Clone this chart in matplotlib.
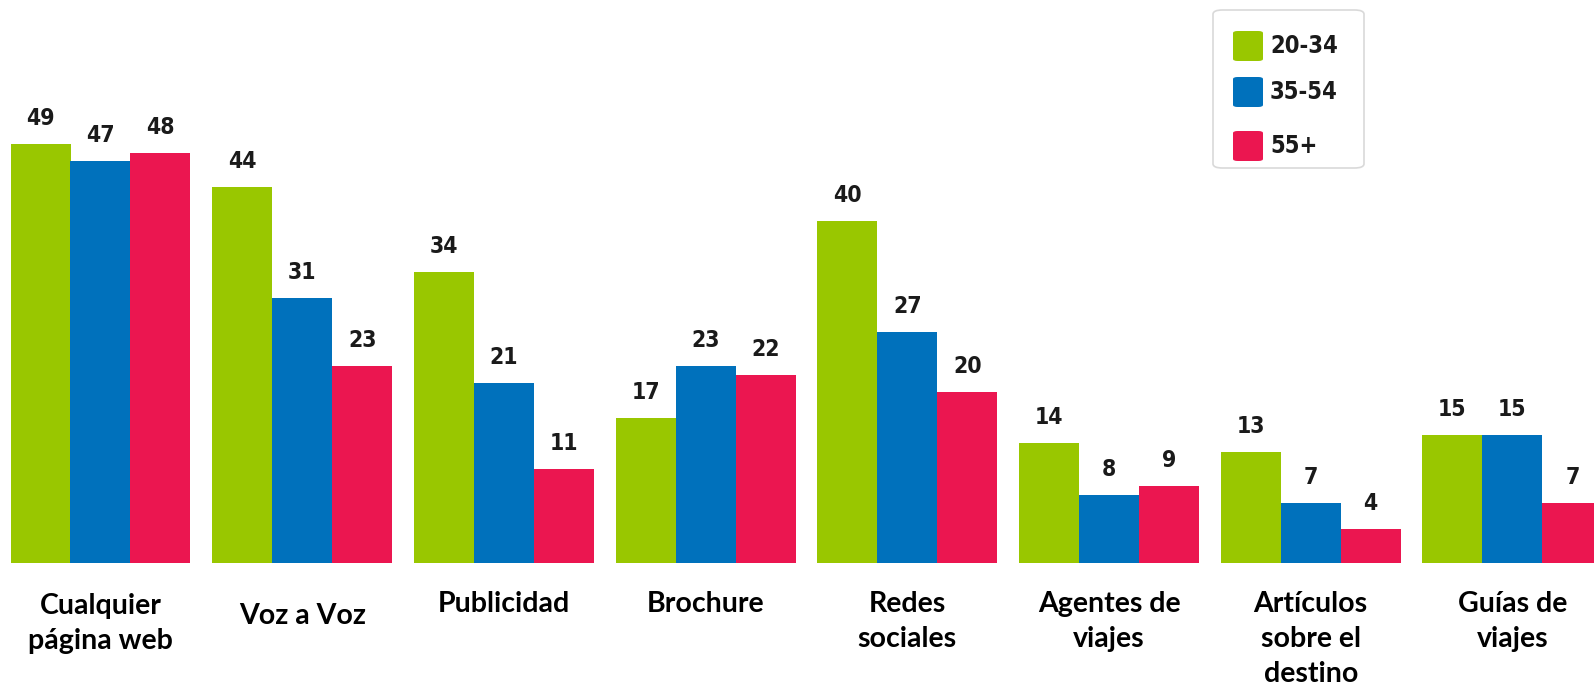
import matplotlib
matplotlib.use("Agg")
import matplotlib.pyplot as plt
from matplotlib.patches import FancyBboxPatch
import numpy as np

# survey data: share of each age group using each information source
categories = ["Cualquier\npágina web", "Voz a Voz", "Publicidad", "Brochure",
              "Redes\nsociales", "Agentes de\nviajes", "Artículos\nsobre el\ndestino",
              "Guías de\nviajes"]
age_groups = ["20-34", "35-54", "55+"]
vals_20_34 = [49, 44, 34, 17, 40, 14, 13, 15]
vals_35_54 = [47, 31, 21, 23, 27, 8, 7, 15]
vals_55_plus = [48, 23, 11, 22, 20, 9, 4, 7]

colors = ["#99c700", "#0071bc", "#eb1650"]

W, H = 1594, 689
fig = plt.figure(figsize=(W / 100, H / 100), dpi=100)
# axes spans the full width; baseline sits 126 px above the bottom edge
ax = fig.add_axes([0, 126 / H, 1, 563 / H])

pitch = 201.7          # px between group centres
bw = 60 / pitch        # bar width in data units
x = np.arange(len(categories))
ax.set_xlim(-100.5 / pitch, (W - 100.5) / pitch)
ax.set_ylim(0, 563 / 8.55)

num_font = dict(family="DejaVu Sans", fontweight="bold", fontsize=16.5,
                fontstretch="condensed")

for k, (series, c) in enumerate(zip([vals_20_34, vals_35_54, vals_55_plus], colors)):
    xs = x + (k - 1) * bw
    bars = ax.bar(xs, series, width=bw, color=c, edgecolor="none")
    for b, v in zip(bars, series):
        ax.annotate(str(v), (b.get_x() + b.get_width() / 2, v),
                    xytext=(0, 14), textcoords="offset pixels",
                    ha="center", va="bottom", color="#1a1a1a", **num_font)

ax.axis("off")

# category labels under each group
y_off = {1: 12, 0: 2}
for i, lab in enumerate(categories):
    ax.annotate(lab, (x[i], 0), xytext=(0, -28 - y_off.get(i, 0)),
                textcoords="offset pixels", ha="center", va="top",
                fontsize=20.5, fontweight="bold", family="Lato",
                linespacing=1.42, color="black", annotation_clip=False)


# legend box drawn in pixel coordinates
def fx(px):
    return px / W


def fy(py):
    return 1 - py / H


box = FancyBboxPatch((fx(1213), fy(168)), fx(1364) - fx(1213), fy(10) - fy(168),
                     boxstyle="round,pad=0,rounding_size=0.006",
                     transform=fig.transFigure, facecolor="white",
                     edgecolor="#d9d9d9", linewidth=1.2)
fig.add_artist(box)
row_y = [46, 92, 146]
for lab, c, ry in zip(age_groups, colors, row_y):
    sw = FancyBboxPatch((fx(1233), fy(ry + 15)), fx(30), 30 / H,
                        boxstyle="round,pad=0,rounding_size=0.003",
                        transform=fig.transFigure, facecolor=c, edgecolor="none")
    fig.add_artist(sw)
    fig.text(fx(1270), fy(ry), lab, ha="left", va="center", color="#1a1a1a",
             family="DejaVu Sans", fontweight="bold", fontsize=17,
             fontstretch="condensed")

fig.savefig("out.png", dpi=100)
